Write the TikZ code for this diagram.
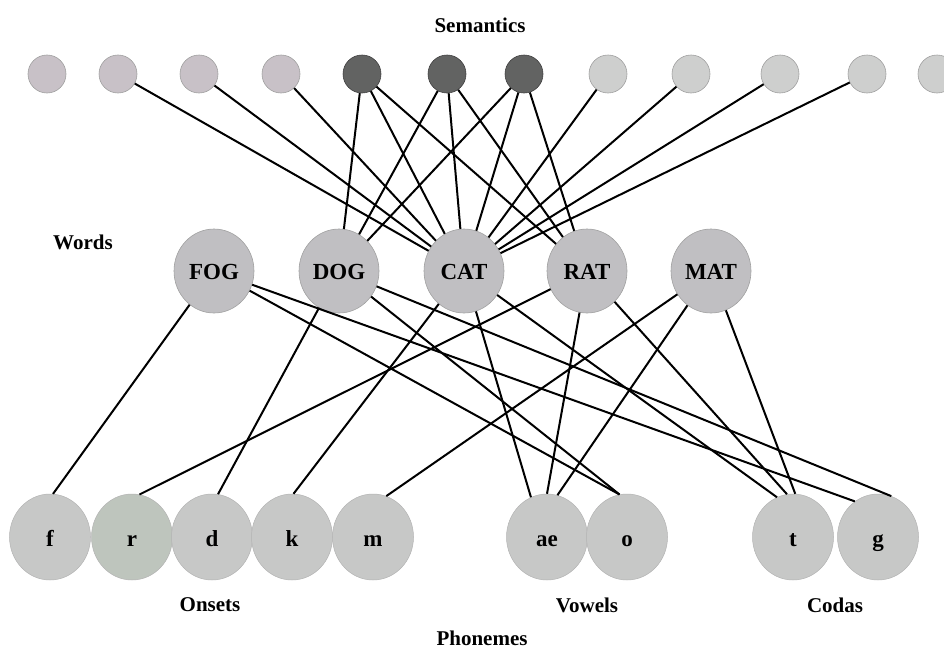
\documentclass[tikz,border=0pt]{standalone}
\usepackage{fontspec}
\setmainfont{Liberation Serif}
\usetikzlibrary{shapes.geometric}
\definecolor{semleft}{RGB}{200,193,199}
\definecolor{semdark}{RGB}{98,99,98}
\definecolor{semright}{RGB}{206,207,206}
\definecolor{wordfill}{RGB}{192,191,194}
\definecolor{phonfill}{RGB}{199,200,199}
\definecolor{phongreen}{RGB}{190,197,189}
\definecolor{rimgray}{RGB}{160,160,160}

\begin{document}
\begin{tikzpicture}[x=1pt,y=-1pt,
  lbl/.style={font=\bfseries\fontsize{21}{24}\selectfont},
  semunit/.style={circle,minimum size=38pt,inner sep=0pt,line width=0.6pt,draw=rimgray},
  wordunit/.style={ellipse,minimum width=80pt,minimum height=84pt,inner sep=0pt,
    text height=16pt,text depth=0pt,
    fill=wordfill,draw=rimgray,line width=0.6pt,font=\bfseries\fontsize{23}{26}\selectfont},
  phonunit/.style={ellipse,minimum width=81pt,minimum height=86pt,inner sep=0pt,
    text height=18pt,text depth=0pt,
    fill=phonfill,draw=rimgray!80,line width=0.5pt,font=\bfseries\fontsize{23}{26}\selectfont},
  link/.style={line width=2pt}]
\useasboundingbox (0,0) rectangle (944,653);

\node [lbl] (semlabel) at (480,25) {Semantics};

% semantic features
\foreach \x/\i in {47/1,118/2,199/3,281/4}
  \node [semunit,fill=semleft] (s\i) at (\x,74) {};
\foreach \x/\i in {362/5,447/6,524/7}
  \node [semunit,fill=semdark,draw=black!75] (s\i) at (\x,74) {};
\foreach \x/\i in {608/8,691/9,780/10,867/11,937/12}
  \node [semunit,fill=semright] (s\i) at (\x,74) {};

% words
\node [lbl] (wordlabel) at (83,242) {Words};
\node [wordunit] (fog) at (214,271) {FOG};
\node [wordunit] (dog) at (339,271) {DOG};
\node [wordunit] (cat) at (464,271) {CAT};
\node [wordunit] (rat) at (587,271) {RAT};
\node [wordunit] (mat) at (711,271) {MAT};

% phonemes
\node [phonunit] (pf) at (50,537) {f};
\node [phonunit,fill=phongreen] (pr) at (132,537) {r};
\node [phonunit] (pd) at (212,537) {d};
\node [phonunit] (pk) at (292,537) {k};
\node [phonunit] (pm) at (373,537) {m};
\node [phonunit] (pae) at (547,537) {ae};
\node [phonunit] (po) at (627,537) {o};
\node [phonunit] (pt) at (793,537) {t};
\node [phonunit] (pg) at (878,537) {g};

\node [lbl] (onsets) at (210,605) {Onsets};
\node [lbl] (vowels) at (587,605) {Vowels};
\node [lbl] (codas) at (835,605) {Codas};
\node [lbl] (phonlabel) at (482,638) {Phonemes};

% semantics -- words
\foreach \s in {2,...,11}
  \draw [link] (s\s) -- (cat);
\foreach \s in {5,6,7} {
  \draw [link] (s\s) -- (dog);
  \draw [link] (s\s) -- (rat);
}

% words -- phonemes
\draw [link] (fog) -- (pf.86);
\draw [link] (fog) -- (po.100);
\draw [link] (fog) -- (pg.123);
\draw [link] (dog) -- (pd.82);
\draw [link] (dog) -- (po.100);
\draw [link] (dog) -- (pg.72);
\draw [link] (cat) -- (pk.88);
\draw [link] (cat) -- (pae.112);
\draw [link] (cat) -- (pt.112);
\draw [link] (rat) -- (pr.80);
\draw [link] (rat) -- (pae.90);
\draw [link] (rat) -- (pt.98);
\draw [link] (mat) -- (pm.72);
\draw [link] (mat) -- (pae.76);
\draw [link] (mat) -- (pt.87);
\end{tikzpicture}
\end{document}
